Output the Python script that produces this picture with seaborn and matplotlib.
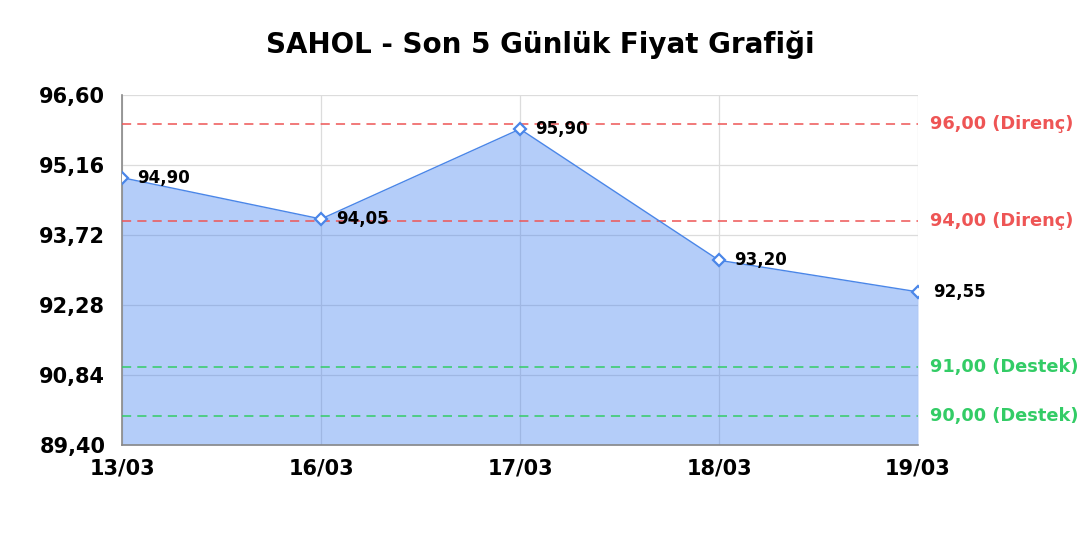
import matplotlib
matplotlib.use("Agg")
import matplotlib.pyplot as plt
import seaborn as sns
import pandas as pd

# data
dates = ["13/03", "16/03", "17/03", "18/03", "19/03"]
prices = [94.90, 94.05, 95.90, 93.20, 92.55]
resistance = [96.00, 94.00]
support = [91.00, 90.00]
y_ticks = [89.40, 90.84, 92.28, 93.72, 95.16, 96.60]

title = "SAHOL - Son 5 Günlük Fiyat Grafiği"


def tr_num(v):
    return f"{v:.2f}".replace(".", ",")


df = pd.DataFrame({"date": dates, "price": prices})
df["pos"] = range(len(df))

sns.set_style("white")
plt.rcParams["font.family"] = ["DejaVu Sans"]
plt.rcParams["text.color"] = "black"

fig = plt.figure(figsize=(10.8, 5.4), dpi=100)
ax = fig.add_axes([0.113, 0.176, 0.737, 0.648])

line_col = "#4a86e8"
red = "#ee5555"
green = "#33cc66"

ax.fill_between(df["pos"], df["price"], y_ticks[0], color="#3f7ff0", alpha=0.39,
                linewidth=0, zorder=2)
sns.lineplot(data=df, x="pos", y="price", ax=ax, color=line_col, linewidth=1,
             marker="D", markersize=6.5, markerfacecolor="white",
             markeredgecolor=line_col, markeredgewidth=1.6, zorder=4)

for x, y in zip(df["pos"], df["price"]):
    ax.annotate(tr_num(y), (x, y), xytext=(11, 0), textcoords="offset points",
                ha="left", va="center", fontsize=12, fontweight="bold",
                color="black", zorder=5)

for lvl in resistance:
    ax.axhline(lvl, color=red, linestyle=(0, (6, 4)), linewidth=1.1, zorder=3)
    ax.text(1.015, lvl, f"{tr_num(lvl)} (Direnç)", transform=ax.get_yaxis_transform(),
            color=red, fontsize=12.8, fontweight="bold", va="center", ha="left")
for lvl in support:
    ax.axhline(lvl, color=green, linestyle=(0, (6, 4)), linewidth=1.1, zorder=3)
    ax.text(1.015, lvl, f"{tr_num(lvl)} (Destek)", transform=ax.get_yaxis_transform(),
            color=green, fontsize=12.8, fontweight="bold", va="center", ha="left")

ax.set_xlim(0, len(dates) - 1)
ax.set_ylim(y_ticks[0], y_ticks[-1])
ax.set_xticks(df["pos"])
ax.set_xticklabels(dates)
ax.set_yticks(y_ticks)
ax.set_yticklabels([tr_num(t) for t in y_ticks])
ax.tick_params(axis="both", labelsize=15, length=0, labelcolor="black")
ax.tick_params(axis="x", pad=10)
ax.tick_params(axis="y", pad=12)
for lab in ax.get_xticklabels() + ax.get_yticklabels():
    lab.set_fontweight("bold")
ax.set_xlabel("")
ax.set_ylabel("")

ax.grid(True, color="#dcdcdc", linewidth=0.9, zorder=0)
ax.set_axisbelow(True)
for s in ["top", "right"]:
    ax.spines[s].set_visible(False)
for s in ["left", "bottom"]:
    ax.spines[s].set_color("#888888")
    ax.spines[s].set_linewidth(1.2)

fig.text(0.5, 0.918, title, ha="center", va="center", fontsize=20, fontweight="bold")

fig.savefig("out.png", dpi=100)
